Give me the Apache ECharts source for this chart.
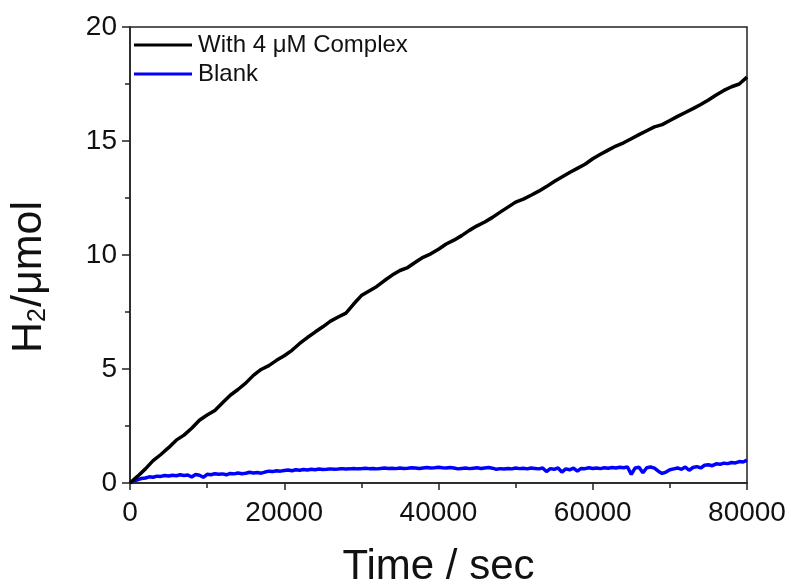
<!DOCTYPE html>
<html>
<head>
<meta charset="utf-8">
<script src="https://cdn.jsdelivr.net/npm/echarts@6/dist/echarts.min.js"></script>
<style>
  html, body { margin: 0; padding: 0; background: #fff; }
  #chart { width: 791px; height: 584px; }
</style>
</head>
<body>
<div id="chart"></div>
<script>
// H2 evolution over time, sampled at fixed intervals (seconds)
const complexStep = 1000;
const complexValues = [
  0.00, 0.30, 0.62, 0.98, 1.25, 1.55, 1.88, 2.10, 2.40, 2.75,
  2.98, 3.18, 3.52, 3.85, 4.10, 4.38, 4.72, 4.98, 5.15, 5.38,
  5.58, 5.82, 6.12, 6.38, 6.62, 6.85, 7.10, 7.28, 7.45, 7.85,
  8.22, 8.42, 8.62, 8.88, 9.12, 9.32, 9.45, 9.68, 9.90, 10.05,
  10.25, 10.48, 10.65, 10.85, 11.08, 11.28, 11.45, 11.65, 11.88, 12.10,
  12.32, 12.45, 12.62, 12.80, 13.00, 13.22, 13.42, 13.62, 13.80, 13.98,
  14.22, 14.42, 14.60, 14.78, 14.92, 15.10, 15.28, 15.45, 15.62, 15.72,
  15.90, 16.08, 16.25, 16.42, 16.60, 16.80, 17.02, 17.22, 17.38, 17.50,
  17.80
];

const blankStep = 500;
const blankValues = [
  0.00, 0.10, 0.14, 0.20, 0.22, 0.27, 0.25, 0.30, 0.29, 0.33,
  0.31, 0.34, 0.32, 0.36, 0.33, 0.35, 0.26, 0.37, 0.34, 0.25,
  0.38, 0.36, 0.41, 0.38, 0.40, 0.36, 0.42, 0.40, 0.44, 0.41,
  0.43, 0.47, 0.44, 0.46, 0.43, 0.48, 0.52, 0.50, 0.54, 0.52,
  0.55, 0.57, 0.54, 0.58, 0.56, 0.59, 0.57, 0.60, 0.58, 0.61,
  0.59, 0.60, 0.62, 0.60, 0.61, 0.63, 0.61, 0.62, 0.64, 0.62,
  0.63, 0.65, 0.63, 0.64, 0.62, 0.64, 0.66, 0.64, 0.65, 0.63,
  0.66, 0.64, 0.65, 0.67, 0.66, 0.64, 0.66, 0.68, 0.66, 0.67,
  0.69, 0.67, 0.66, 0.68, 0.66, 0.62, 0.64, 0.66, 0.63, 0.65,
  0.67, 0.64, 0.66, 0.68, 0.65, 0.60, 0.63, 0.61, 0.64, 0.62,
  0.66, 0.63, 0.65, 0.62, 0.66, 0.64, 0.62, 0.66, 0.50, 0.63,
  0.60, 0.66, 0.48, 0.62, 0.58, 0.65, 0.52, 0.64, 0.63, 0.67,
  0.64, 0.66, 0.63, 0.67, 0.65, 0.68, 0.66, 0.69, 0.67, 0.70,
  0.38, 0.66, 0.69, 0.45, 0.67, 0.70, 0.65, 0.52, 0.42, 0.48,
  0.58, 0.62, 0.66, 0.60, 0.70, 0.56, 0.68, 0.72, 0.66, 0.78,
  0.80, 0.76, 0.84, 0.82, 0.87, 0.85, 0.90, 0.88, 0.94, 0.92,
  1.00
];

const seriesNames = ['With 4 \u03bcM Complex', 'Blank'];
const xTicks = { min: 0, max: 80000, interval: 20000 };
const yTicks = { min: 0, max: 20, interval: 5 };

const toPairs = (values, step) => values.map((v, i) => [i * step, v]);

const FONT = 'Liberation Sans, Arial, sans-serif';
const INK = '#111';
const AXIS = '#222';

const chart = echarts.init(document.getElementById('chart'), null, { renderer: 'canvas' });

chart.setOption({
  animation: false,
  backgroundColor: '#ffffff',
  grid: {
    left: 130, top: 27, right: 44, bottom: 101,
    containLabel: false,
    outerBoundsMode: 'none',
    show: true, borderColor: AXIS, borderWidth: 1.5,
    backgroundColor: 'transparent'
  },
  legend: {
    orient: 'vertical',
    left: 134, top: 33,
    padding: 0,
    itemGap: 5,
    itemWidth: 58,
    itemHeight: 3,
    icon: 'rect',
    textStyle: { fontFamily: FONT, fontSize: 24, color: INK, padding: [0, 0, 0, 1] },
    data: seriesNames
  },
  xAxis: {
    type: 'value',
    min: xTicks.min, max: xTicks.max, interval: xTicks.interval,
    name: 'Time / sec',
    nameLocation: 'middle',
    nameGap: 63,
    nameTextStyle: { fontFamily: FONT, fontSize: 42, color: INK },
    axisLine: { show: true, onZero: false, lineStyle: { color: AXIS, width: 1.5 } },
    axisTick: { show: true, inside: false, length: 7, lineStyle: { color: AXIS, width: 1.5 } },
    minorTick: { show: true, splitNumber: 2, length: 5, lineStyle: { color: AXIS, width: 1.5 } },
    splitLine: { show: false },
    axisLabel: {
      fontFamily: FONT, fontSize: 28, color: INK, margin: 16,
      showMaxLabel: true, showMinLabel: true,
      formatter: (v) => String(v)
    }
  },
  yAxis: {
    type: 'value',
    min: yTicks.min, max: yTicks.max, interval: yTicks.interval,
    name: '{a|H}{sub|2}{a|/\u03bcmol}',
    nameLocation: 'middle',
    nameGap: 79,
    nameRotate: 90,
    nameTextStyle: {
      fontFamily: FONT, color: INK,
      padding: [0, 44, 0, 0],
      rich: {
        a: { fontFamily: FONT, fontSize: 43, color: INK, lineHeight: 50, verticalAlign: 'bottom' },
        sub: { fontFamily: FONT, fontSize: 25, color: INK, lineHeight: 25, verticalAlign: 'bottom', padding: [0, 1, 0, 0] }
      }
    },
    axisLine: { show: true, onZero: false, lineStyle: { color: AXIS, width: 1.5 } },
    axisTick: { show: true, inside: false, length: 8, lineStyle: { color: AXIS, width: 1.5 } },
    minorTick: { show: true, splitNumber: 2, length: 5, lineStyle: { color: AXIS, width: 1.5 } },
    splitLine: { show: false },
    axisLabel: { fontFamily: FONT, fontSize: 28, color: INK, margin: 13, formatter: (v) => String(v) }
  },
  series: [
    {
      name: seriesNames[1],
      type: 'line',
      data: toPairs(blankValues, blankStep),
      showSymbol: false,
      color: '#0000ff',
      lineStyle: { color: '#0000ff', width: 3.5 },
      z: 2
    },
    {
      name: seriesNames[0],
      type: 'line',
      data: toPairs(complexValues, complexStep),
      showSymbol: false,
      color: '#000000',
      lineStyle: { color: '#000000', width: 3.5 },
      z: 3
    }
  ]
});
</script>
</body>
</html>
